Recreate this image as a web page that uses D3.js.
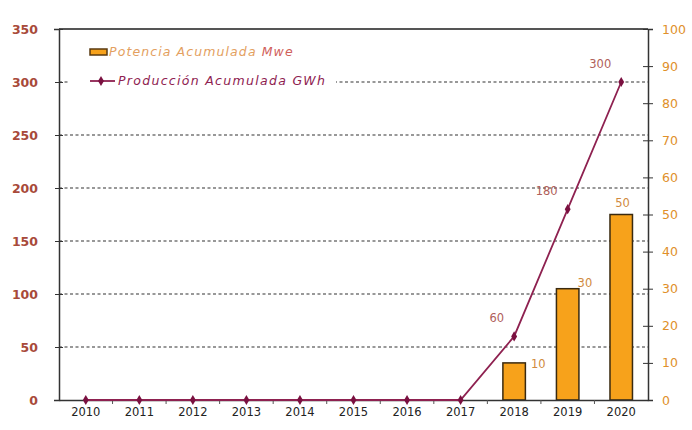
<!DOCTYPE html>
<html><head><meta charset="utf-8">
<script src="https://cdn.jsdelivr.net/npm/d3@7"></script>
<style>body{margin:0;background:#fff}svg{display:block}</style>
</head><body><svg id="c" width="692" height="430"></svg>
<script>
const years = ["2010","2011","2012","2013","2014","2015","2016","2017","2018","2019","2020"];
const potencia = [null,null,null,null,null,null,null,null,10,30,50]; // MWe, right axis
const produccion = [0,0,0,0,0,0,0,0,60,180,300]; // GWh, left axis
const leftTicks = [0,50,100,150,200,250,300,350];
const rightTicks = [0,10,20,30,40,50,60,70,80,90,100];
const legendLabels = ["Potencia Acumulada ","Mwe","Producción Acumulada GWh"];

const svg = d3.select("#c");
const L = 59, R = 648, T = 29, B = 400;
const x = d3.scaleBand().domain(years).range([L, R]).paddingInner(0.58).paddingOuter(0.29);
const xc = d => x(d) + x.bandwidth()/2;
const yL = d3.scaleLinear().domain([0,350]).range([B, T]);
const yR = d3.scaleLinear().domain([0,100]).range([B, T]);
const font = "'DejaVu Sans', Verdana, sans-serif";

// gridlines
svg.append("g").selectAll("line").data(leftTicks.filter(v => v > 0 && v < 350)).join("line")
  .attr("x1", L).attr("x2", R).attr("y1", d => yL(d)).attr("y2", d => yL(d))
  .attr("stroke", "#333").attr("stroke-width", 1.2).attr("stroke-dasharray", "3,2.5");
// top border
svg.append("line").attr("x1", L).attr("x2", R).attr("y1", T).attr("y2", T)
  .attr("stroke", "#555").attr("stroke-width", 2);

// left axis
const gL = svg.append("g").attr("transform", `translate(${L},0)`)
  .call(d3.axisLeft(yL).tickValues(leftTicks).tickSize(5).tickPadding(16));
gL.select(".domain").attr("stroke", "#333").attr("stroke-width", 1.5);
gL.selectAll(".tick line").attr("x2", 4).attr("x1", -4).attr("stroke", "#333");
gL.selectAll(".tick text").attr("font-family", font).attr("font-size", 12.5).attr("font-weight", "bold").attr("fill", "#a84a3a");

// right axis
const gR = svg.append("g").attr("transform", `translate(${R},0)`)
  .call(d3.axisRight(yR).tickValues(rightTicks).tickSize(5).tickPadding(9));
gR.select(".domain").attr("stroke", "#333").attr("stroke-width", 1.5);
gR.selectAll(".tick line").attr("x2", 5).attr("x1", -5).attr("stroke", "#333");
gR.selectAll(".tick text").attr("font-family", font).attr("font-size", 12.5).attr("fill", "#e0902a");

// bars
const barData = years.map((y,i)=>({y, v: potencia[i]})).filter(d => d.v != null);
const barLabelOffset = [[13, 5], [6, -2], [-10, -8]]; // [dx from bar right edge... , dy from top]
svg.append("g").selectAll("rect").data(barData).join("rect")
  .attr("x", d => x(d.y)).attr("width", x.bandwidth())
  .attr("y", d => yR(d.v)).attr("height", d => B - yR(d.v))
  .attr("fill", "#f7a21b").attr("stroke", "#3a2a10").attr("stroke-width", 1.5);
svg.append("g").selectAll("text").data(barData).join("text")
  .attr("x", (d,i) => x(d.y) + x.bandwidth() + barLabelOffset[i][0])
  .attr("y", (d,i) => yR(d.v) + barLabelOffset[i][1])
  .attr("text-anchor", "middle")
  .attr("font-family", font).attr("font-size", 11.5).attr("fill", "#d08a40")
  .text(d => d.v);

// x axis
const gX = svg.append("g").attr("transform", `translate(0,${B})`)
  .call(d3.axisBottom(x).tickSize(0).tickPadding(8));
gX.select(".domain").attr("stroke", "#333").attr("stroke-width", 1.5);
gX.selectAll(".tick text").attr("font-family", font).attr("font-size", 11.5).attr("fill", "#222");
// minor ticks at category boundaries
const step = x.step();
svg.append("g").selectAll("line").data(years.slice(1)).join("line")
  .attr("x1", d => xc(d) - step/2).attr("x2", d => xc(d) - step/2)
  .attr("y1", B).attr("y2", B + 4).attr("stroke", "#555");

// line
const lineData = years.map((y,i)=>({y, v: produccion[i]}));
svg.append("path").datum(lineData)
  .attr("d", d3.line().x(d => xc(d.y)).y(d => yL(d.v)))
  .attr("fill", "none").attr("stroke", "#8e2150").attr("stroke-width", 1.8);
svg.append("g").selectAll("path").data(lineData).join("path")
  .attr("transform", d => `translate(${xc(d.y)},${yL(d.v)})`)
  .attr("d", d3.symbol(d3.symbolDiamond, 30))
  .attr("fill", "#7a1040");
svg.append("g").selectAll("text").data(lineData.filter(d => d.v > 0)).join("text")
  .attr("x", d => xc(d.y) - 10).attr("y", d => yL(d.v) - 14)
  .attr("text-anchor", "end")
  .attr("font-family", font).attr("font-size", 11.5).attr("fill", "#b0605a")
  .text(d => d.v);

// legend
const lg = svg.append("g");
lg.append("rect").attr("x", 68).attr("y", 38).attr("width", 268).attr("height", 56).attr("fill", "#fff");
lg.append("rect").attr("x", 90).attr("y", 49).attr("width", 17).attr("height", 6)
  .attr("fill", "#f7a21b").attr("stroke", "#5a3a10").attr("stroke-width", 1.5);
const t1 = lg.append("text").attr("x", 109).attr("y", 56)
  .attr("font-family", font).attr("font-size", 12.5).attr("font-style", "italic").attr("letter-spacing", 1.1);
t1.append("tspan").attr("fill", "#e3a060").text(legendLabels[0]);
t1.append("tspan").attr("fill", "#d0605a").text(legendLabels[1]);
lg.append("line").attr("x1", 90).attr("x2", 115).attr("y1", 81).attr("y2", 81)
  .attr("stroke", "#8e2150").attr("stroke-width", 1.8);
lg.append("path").attr("transform", "translate(101,81)").attr("d", d3.symbol(d3.symbolDiamond, 30)).attr("fill", "#7a1040");
lg.append("text").attr("x", 118).attr("y", 85).text(legendLabels[2])
  .attr("font-family", font).attr("font-size", 12.5).attr("font-style", "italic").attr("letter-spacing", 1.3).attr("fill", "#8e2150");
</script></body></html>
